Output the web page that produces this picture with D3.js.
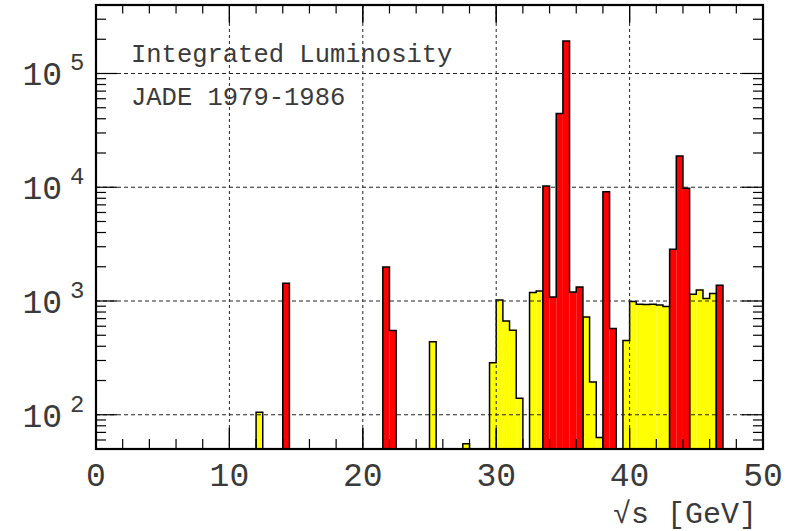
<!DOCTYPE html>
<html><head><meta charset="utf-8">
<script src="https://cdn.jsdelivr.net/npm/d3@7"></script>
<style>body{margin:0;background:#fff}svg{display:block}</style>
</head><body>
<svg id="c" width="796" height="531"></svg>
<script>
// ---- data ----
const binWidth = 0.5;
const yellowEdges  = [12.0, 25.0, 27.5, 29.5, 30.0, 30.5, 31.0, 31.5, 32.5, 33.0, 36.5, 37.0, 37.5, 39.5, 40.0, 40.5, 41.0, 41.5, 42.0, 42.5, 44.5, 45.0, 45.5, 46.0];
const yellowValues = [105, 438, 55.5, 286, 1020, 666, 554, 140, 1186, 1225, 723, 194, 63, 450, 988, 935, 932, 935, 922, 893, 1146, 1251, 1050, 1162];
const redEdges  = [14.0, 21.5, 22.0, 33.5, 34.0, 34.5, 35.0, 35.5, 36.0, 38.0, 38.5, 43.0, 43.5, 44.0, 46.5];
const redValues = [1433, 1990, 551, 10240, 1085, 44600, 193000, 1200, 1329, 9130, 574, 2850, 18800, 9780, 1377];
const xTicks = [0, 10, 20, 30, 40, 50];
const yDecades = [100, 1000, 10000, 100000];
const yExponents = ["2", "3", "4", "5"];
const titleLines = ["Integrated Luminosity", "JADE 1979-1986"];
const xTitle = "\u221As [GeV]";

// ---- layout ----
const L = 96, R = 763, T = 5, B = 449;
const svg = d3.select("#c");
const x = d3.scaleLinear().domain([0, 50]).range([L, R]);
const y = d3.scaleLog().domain([50, 4e5]).range([B, T]).clamp(true);
const mono = "'Liberation Mono', 'DejaVu Sans Mono', monospace";
const txt = "#3a3a3a";

function series(edges, values) {
  return edges.map((e, i) => ({x0: e, x1: e + binWidth, v: values[i]}));
}
function stepPath(bins) {
  let p = "", prevEnd = null;
  bins.forEach(b => {
    const contiguous = prevEnd !== null && Math.abs(prevEnd - b.x0) < 1e-9;
    if (!contiguous) {
      if (prevEnd !== null) p += `V${B}`;
      p += `M${x(b.x0)},${B}`;
    }
    p += `V${y(b.v)}H${x(b.x1)}`;
    prevEnd = b.x1;
  });
  p += `V${B}`;
  return p;
}
function drawHist(bins, color) {
  const g = svg.append("g");
  g.selectAll("rect").data(bins).join("rect")
    .attr("x", d => x(d.x0)).attr("width", d => x(d.x1) - x(d.x0))
    .attr("y", d => y(d.v)).attr("height", d => B - y(d.v))
    .attr("fill", color);
  g.append("path").attr("d", stepPath(bins))
    .attr("fill", "none").attr("stroke", "#000").attr("stroke-width", 1.5);
}

// yellow histogram
drawHist(series(yellowEdges, yellowValues), "#ffff00");

// grid
const grid = svg.append("g").attr("stroke", "#222").attr("stroke-width", 1);
grid.selectAll(".gx").data(xTicks.filter(t => t > 0 && t < 50)).join("line")
  .attr("x1", d => x(d)).attr("x2", d => x(d)).attr("y1", T).attr("y2", B)
  .attr("stroke-dasharray", "3,3");
grid.selectAll(".gy").data(yDecades).join("line")
  .attr("x1", L).attr("x2", R).attr("y1", d => y(d)).attr("y2", d => y(d))
  .attr("stroke-dasharray", "4,3");

// red histogram
drawHist(series(redEdges, redValues), "#ff0000");

// ticks
const ticks = svg.append("g").attr("stroke", "#000").attr("stroke-width", 1.2);
const xMinor = d3.range(0, 50.001, 2);
const majLen = 21, minLen = 10;
ticks.selectAll(".xb").data(xMinor.concat(xTicks)).join("line")
  .attr("x1", d => x(d)).attr("x2", d => x(d)).attr("y1", B)
  .attr("y2", d => B - (d % 10 === 0 ? majLen : minLen));
ticks.selectAll(".xt").data(xMinor.concat(xTicks)).join("line")
  .attr("x1", d => x(d)).attr("x2", d => x(d)).attr("y1", T)
  .attr("y2", d => T + (d % 10 === 0 ? majLen : minLen) * 0.85);
const yMinor = [];
[10, 100, 1000, 10000, 100000].forEach(dec => {
  for (let k = 1; k <= 9; k++) { const v = dec * k; if (v >= 50 && v <= 4e5) yMinor.push(v); }
});
const isDec = v => Math.abs(Math.log10(v) - Math.round(Math.log10(v))) < 1e-9;
ticks.selectAll(".yl").data(yMinor).join("line")
  .attr("x1", L).attr("x2", d => L + (isDec(d) ? majLen : minLen))
  .attr("y1", d => y(d)).attr("y2", d => y(d));
ticks.selectAll(".yr").data(yMinor).join("line")
  .attr("x1", R).attr("x2", d => R - (isDec(d) ? majLen : minLen))
  .attr("y1", d => y(d)).attr("y2", d => y(d));

// frame
svg.append("rect").attr("x", L).attr("y", T).attr("width", R - L).attr("height", B - T)
  .attr("fill", "none").attr("stroke", "#000").attr("stroke-width", 2.2);

// x tick labels
svg.append("g").selectAll("text").data(xTicks).join("text")
  .attr("x", d => x(d)).attr("y", 486).attr("text-anchor", "middle")
  .attr("font-family", mono).attr("font-size", 33).attr("fill", txt)
  .text(d => d);

// y tick labels
svg.append("g").selectAll("text").data(yDecades).join("text")
  .attr("x", 62).attr("y", d => y(d) + 12).attr("text-anchor", "end")
  .attr("font-family", mono).attr("font-size", 33).attr("fill", txt)
  .text("10");
svg.append("g").selectAll("text").data(yDecades).join("text")
  .attr("x", 70).attr("y", d => y(d) - 3)
  .attr("font-family", mono).attr("font-size", 24).attr("fill", txt)
  .text((d, i) => yExponents[i]);

// title box text
svg.append("g").selectAll("text").data(titleLines).join("text")
  .attr("x", 131).attr("y", (d, i) => i === 0 ? 62 : 105)
  .attr("font-family", mono).attr("font-size", 25.5).attr("fill", txt)
  .text(d => d);

// x axis title
svg.append("text").attr("x", 757).attr("y", 523).attr("text-anchor", "end")
  .attr("font-family", mono).attr("font-size", 30).attr("fill", txt)
  .text(xTitle);
</script>
</body></html>
